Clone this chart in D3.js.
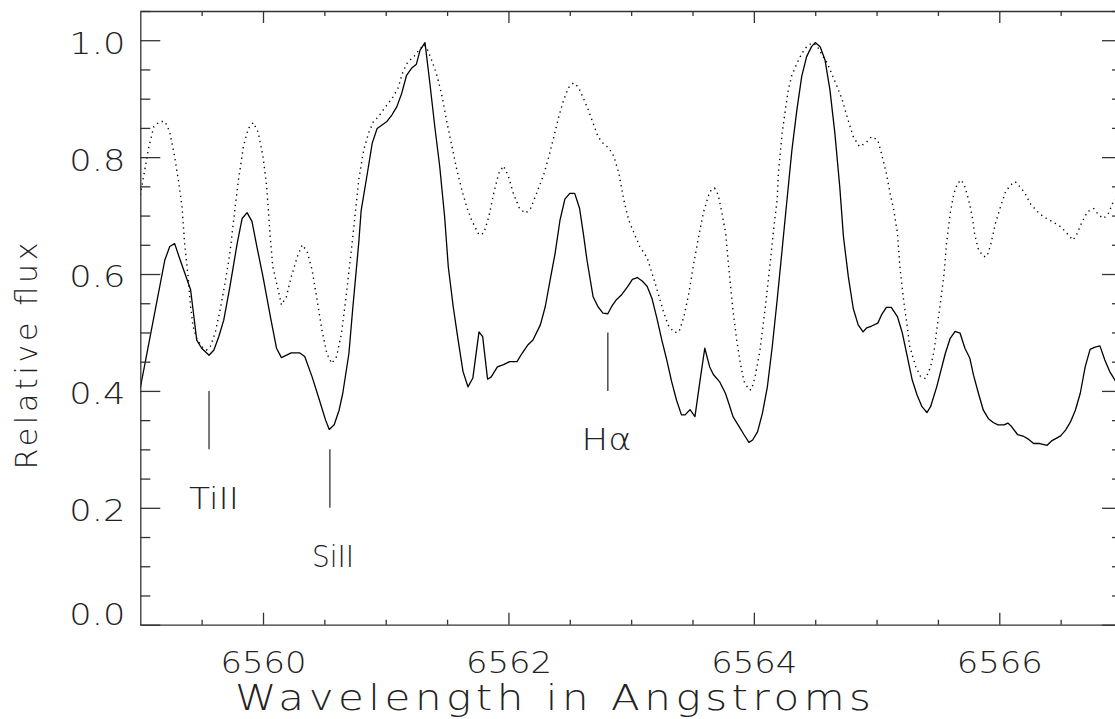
<!DOCTYPE html>
<html>
<head>
<meta charset="utf-8">
<script src="https://cdn.jsdelivr.net/npm/d3@7"></script>
<style>
  html, body { margin: 0; padding: 0; background: #fff; overflow: hidden; }
  svg { display: block; }
  .lbl { font-family: 'DejaVu Sans ExtraLight', 'DejaVu Sans', sans-serif; font-weight: 200; fill: #222; }
</style>
</head>
<body>
<svg id="chart" width="1115" height="719"></svg>
<script>
// ---------------- data ----------------
const xDomain = [6559, 6567];
const yDomain = [0, 1.05];
const xMajorTicks = [6560, 6562, 6564, 6566];
const xMinorTicks = [6559.5, 6560.5, 6561, 6561.5, 6562.5, 6563, 6563.5, 6564.5, 6565, 6565.5, 6566.5];
const yMajorTicks = [0, 0.2, 0.4, 0.6, 0.8, 1.0];
const yMinorTicks = [0.05, 0.1, 0.15, 0.25, 0.3, 0.35, 0.45, 0.5, 0.55, 0.65, 0.7, 0.75, 0.85, 0.9, 0.95, 1.05];
const xTitle = "Wavelength in Angstroms";
const yTitle = "Relative flux";

const solidWave = [6559.00,6559.20,6559.24,6559.28,6559.32,6559.41,6559.46,6559.50,6559.56,6559.60,6559.64,6559.68,6559.73,6559.79,6559.83,6559.87,6559.91,6559.95,6560.00,6560.06,6560.11,6560.15,6560.23,6560.30,6560.34,6560.40,6560.46,6560.51,6560.54,6560.58,6560.62,6560.65,6560.70,6560.73,6560.78,6560.80,6560.85,6560.89,6560.93,6560.97,6561.01,6561.05,6561.09,6561.13,6561.17,6561.21,6561.25,6561.28,6561.32,6561.36,6561.40,6561.44,6561.48,6561.51,6561.55,6561.59,6561.63,6561.67,6561.71,6561.76,6561.79,6561.83,6561.86,6561.91,6561.96,6562.01,6562.07,6562.11,6562.16,6562.20,6562.26,6562.30,6562.34,6562.38,6562.42,6562.46,6562.50,6562.54,6562.58,6562.61,6562.64,6562.69,6562.73,6562.77,6562.81,6562.84,6562.88,6562.92,6562.97,6563.01,6563.05,6563.09,6563.13,6563.17,6563.21,6563.25,6563.29,6563.33,6563.37,6563.41,6563.44,6563.48,6563.52,6563.56,6563.60,6563.64,6563.67,6563.72,6563.77,6563.80,6563.83,6563.88,6563.92,6563.96,6563.99,6564.03,6564.07,6564.11,6564.15,6564.19,6564.23,6564.27,6564.31,6564.35,6564.39,6564.43,6564.47,6564.50,6564.54,6564.58,6564.62,6564.66,6564.70,6564.73,6564.77,6564.81,6564.85,6564.89,6564.92,6564.96,6565.01,6565.04,6565.08,6565.12,6565.17,6565.21,6565.25,6565.29,6565.33,6565.37,6565.41,6565.44,6565.49,6565.56,6565.60,6565.64,6565.68,6565.72,6565.76,6565.79,6565.83,6565.87,6565.91,6565.95,6565.99,6566.04,6566.07,6566.10,6566.15,6566.20,6566.24,6566.28,6566.33,6566.39,6566.43,6566.50,6566.54,6566.58,6566.62,6566.66,6566.70,6566.74,6566.78,6566.82,6566.86,6566.90,6566.95,6567.00];
const solidFlux = [0.405,0.624,0.647,0.652,0.627,0.573,0.487,0.473,0.461,0.470,0.493,0.521,0.578,0.653,0.695,0.705,0.690,0.647,0.595,0.527,0.473,0.457,0.465,0.465,0.459,0.424,0.384,0.350,0.334,0.342,0.367,0.396,0.464,0.538,0.653,0.709,0.772,0.824,0.849,0.855,0.861,0.872,0.886,0.909,0.940,0.952,0.959,0.983,0.996,0.926,0.852,0.784,0.698,0.612,0.544,0.487,0.433,0.407,0.422,0.501,0.493,0.420,0.424,0.441,0.445,0.450,0.450,0.464,0.479,0.487,0.513,0.544,0.590,0.635,0.692,0.728,0.738,0.738,0.712,0.670,0.624,0.561,0.544,0.533,0.532,0.544,0.556,0.564,0.578,0.591,0.594,0.588,0.579,0.558,0.524,0.487,0.453,0.416,0.384,0.359,0.359,0.368,0.356,0.416,0.473,0.441,0.428,0.416,0.395,0.376,0.356,0.339,0.325,0.312,0.316,0.330,0.362,0.407,0.476,0.556,0.641,0.727,0.812,0.880,0.938,0.972,0.989,0.996,0.989,0.966,0.915,0.841,0.749,0.664,0.595,0.541,0.513,0.501,0.508,0.511,0.516,0.530,0.543,0.543,0.527,0.499,0.459,0.419,0.393,0.373,0.363,0.373,0.407,0.464,0.490,0.502,0.499,0.473,0.456,0.427,0.396,0.367,0.353,0.346,0.342,0.342,0.345,0.339,0.325,0.322,0.317,0.310,0.310,0.307,0.315,0.323,0.333,0.347,0.367,0.396,0.441,0.471,0.475,0.477,0.453,0.433,0.416,0.400];

const dottedWave = [6559.00,6559.07,6559.11,6559.16,6559.20,6559.24,6559.28,6559.31,6559.34,6559.36,6559.39,6559.41,6559.43,6559.46,6559.50,6559.54,6559.57,6559.61,6559.65,6559.69,6559.73,6559.77,6559.80,6559.84,6559.88,6559.92,6559.96,6560.00,6560.03,6560.06,6560.08,6560.13,6560.15,6560.19,6560.23,6560.28,6560.32,6560.36,6560.40,6560.44,6560.48,6560.52,6560.56,6560.60,6560.64,6560.68,6560.72,6560.75,6560.78,6560.82,6560.86,6560.90,6560.94,6560.98,6561.02,6561.06,6561.10,6561.14,6561.18,6561.23,6561.27,6561.31,6561.33,6561.38,6561.42,6561.46,6561.50,6561.54,6561.58,6561.62,6561.66,6561.70,6561.76,6561.80,6561.84,6561.88,6561.92,6561.96,6562.00,6562.04,6562.09,6562.14,6562.18,6562.23,6562.29,6562.33,6562.37,6562.41,6562.45,6562.49,6562.53,6562.57,6562.61,6562.65,6562.69,6562.73,6562.77,6562.82,6562.86,6562.90,6562.94,6562.98,6563.02,6563.07,6563.13,6563.18,6563.22,6563.26,6563.30,6563.35,6563.39,6563.43,6563.47,6563.51,6563.55,6563.59,6563.62,6563.64,6563.68,6563.71,6563.74,6563.77,6563.80,6563.83,6563.86,6563.89,6563.92,6563.96,6563.98,6564.01,6564.05,6564.09,6564.13,6564.16,6564.19,6564.20,6564.23,6564.26,6564.28,6564.31,6564.35,6564.39,6564.43,6564.47,6564.51,6564.55,6564.60,6564.64,6564.68,6564.72,6564.76,6564.81,6564.86,6564.91,6564.96,6565.01,6565.04,6565.08,6565.11,6565.14,6565.17,6565.19,6565.22,6565.25,6565.27,6565.32,6565.36,6565.40,6565.44,6565.47,6565.49,6565.52,6565.55,6565.57,6565.60,6565.63,6565.66,6565.69,6565.72,6565.75,6565.78,6565.80,6565.83,6565.87,6565.90,6565.93,6565.97,6566.01,6566.05,6566.09,6566.13,6566.17,6566.21,6566.25,6566.31,6566.36,6566.43,6566.50,6566.55,6566.60,6566.63,6566.67,6566.72,6566.77,6566.81,6566.85,6566.89,6566.93,6567.00];
const dottedFlux = [0.735,0.818,0.852,0.861,0.861,0.843,0.801,0.761,0.715,0.655,0.595,0.544,0.510,0.490,0.476,0.470,0.476,0.499,0.538,0.584,0.635,0.710,0.761,0.818,0.849,0.859,0.843,0.801,0.749,0.660,0.612,0.567,0.547,0.561,0.595,0.630,0.650,0.638,0.607,0.556,0.504,0.464,0.447,0.459,0.499,0.567,0.641,0.700,0.761,0.812,0.841,0.861,0.869,0.881,0.892,0.903,0.918,0.946,0.963,0.972,0.983,0.992,0.989,0.963,0.938,0.903,0.858,0.818,0.778,0.744,0.715,0.692,0.667,0.670,0.698,0.738,0.772,0.785,0.767,0.738,0.712,0.704,0.712,0.738,0.772,0.801,0.835,0.869,0.898,0.919,0.927,0.920,0.901,0.881,0.858,0.835,0.824,0.815,0.801,0.772,0.727,0.692,0.672,0.647,0.628,0.595,0.567,0.538,0.513,0.500,0.501,0.527,0.567,0.618,0.664,0.706,0.727,0.741,0.747,0.735,0.704,0.670,0.600,0.538,0.487,0.447,0.416,0.402,0.402,0.424,0.470,0.538,0.612,0.675,0.727,0.772,0.841,0.886,0.915,0.940,0.960,0.977,0.989,0.995,0.992,0.977,0.960,0.940,0.920,0.898,0.869,0.835,0.818,0.824,0.835,0.829,0.806,0.772,0.738,0.710,0.670,0.612,0.556,0.510,0.476,0.441,0.424,0.421,0.441,0.470,0.504,0.550,0.601,0.652,0.704,0.738,0.755,0.761,0.749,0.727,0.698,0.667,0.642,0.630,0.630,0.650,0.688,0.715,0.740,0.752,0.758,0.749,0.738,0.721,0.707,0.698,0.690,0.681,0.670,0.658,0.667,0.687,0.707,0.712,0.701,0.695,0.704,0.724,0.740];

// spectral line markers: wavelength, marker flux range, label, label position
const markerNames = ["TiII", "SiII", "H\u03b1"];
const markerWave = [6559.56, 6560.545, 6562.81];
const markerLow = [0.30, 0.20, 0.40];
const markerHigh = [0.40, 0.30, 0.50];
const markerLabelWave = [6559.60, 6560.57, 6562.80];
const markerLabelFlux = [0.198, 0.099, 0.299];

// ---------------- drawing ----------------
const svg = d3.select("#chart");
const x = d3.scaleLinear().domain(xDomain).range([140.3, 1122]);
const y = d3.scaleLinear().domain(yDomain).range([624.7, 11]);
const axisColor = "#333";

svg.append("defs").append("clipPath").attr("id", "plotclip")
  .append("rect")
  .attr("x", x(xDomain[0])).attr("y", y(yDomain[1]))
  .attr("width", x(xDomain[1]) - x(xDomain[0]))
  .attr("height", y(yDomain[0]) - y(yDomain[1]));

const line = d3.line().x(d => x(d[0])).y(d => y(d[1]));

const solidData = solidWave.map((w, i) => [w, solidFlux[i]]);
const dottedData = dottedWave.map((w, i) => [w, dottedFlux[i]]);

const plot = svg.append("g").attr("clip-path", "url(#plotclip)");
plot.append("path").datum(dottedData)
  .attr("d", line).attr("fill", "none")
  .attr("stroke", "#000").attr("stroke-width", 1.4)
  .attr("stroke-dasharray", "1.3 4");
plot.append("path").datum(solidData)
  .attr("d", line).attr("fill", "none")
  .attr("stroke", "#000").attr("stroke-width", 1.3)
  .attr("stroke-linejoin", "round");

// axes
function styleAxis(g) {
  g.selectAll("path.domain").attr("stroke", axisColor).attr("stroke-width", 1.3);
  g.selectAll(".tick line").attr("stroke", axisColor).attr("stroke-width", 1.3);
  g.attr("font-size", null).attr("font-family", null);
}

// bottom
const gB = svg.append("g").attr("transform", `translate(0,${y(0)})`)
  .call(d3.axisBottom(x).tickValues(xMajorTicks).tickSizeInner(-12).tickSizeOuter(0).tickFormat(d3.format("d")));
styleAxis(gB);
gB.selectAll(".tick text").attr("class", "lbl").attr("y", 48).attr("dy", 0)
  .attr("font-size", 30).attr("textLength", 86).attr("lengthAdjust", "spacingAndGlyphs").attr("fill", "#222");
const gBm = svg.append("g").attr("transform", `translate(0,${y(0)})`)
  .call(d3.axisBottom(x).tickValues(xMinorTicks).tickSizeInner(-5).tickSizeOuter(0).tickFormat(""));
styleAxis(gBm); gBm.select("path.domain").remove();

// top
const gT = svg.append("g").attr("transform", `translate(0,${y(yDomain[1])})`)
  .call(d3.axisTop(x).tickValues(xMajorTicks).tickSizeInner(-12).tickSizeOuter(0).tickFormat(""));
styleAxis(gT);
const gTm = svg.append("g").attr("transform", `translate(0,${y(yDomain[1])})`)
  .call(d3.axisTop(x).tickValues(xMinorTicks).tickSizeInner(-5).tickSizeOuter(0).tickFormat(""));
styleAxis(gTm); gTm.select("path.domain").remove();

// left
const gL = svg.append("g").attr("transform", `translate(${x(xDomain[0])},0)`)
  .call(d3.axisLeft(y).tickValues(yMajorTicks).tickSizeInner(-20).tickSizeOuter(0).tickFormat(d3.format(".1f")));
styleAxis(gL);
gL.selectAll(".tick text").attr("class", "lbl").attr("x", -15).attr("font-size", 30)
  .attr("textLength", 56).attr("lengthAdjust", "spacingAndGlyphs").attr("fill", "#222")
  .attr("dy", d => d === 0 ? "0" : "0.43em");
const gLm = svg.append("g").attr("transform", `translate(${x(xDomain[0])},0)`)
  .call(d3.axisLeft(y).tickValues(yMinorTicks).tickSizeInner(-10).tickSizeOuter(0).tickFormat(""));
styleAxis(gLm); gLm.select("path.domain").remove();

// right
const gR = svg.append("g").attr("transform", `translate(${x(xDomain[1])},0)`)
  .call(d3.axisRight(y).tickValues(yMajorTicks).tickSizeInner(-20).tickSizeOuter(0).tickFormat(""));
styleAxis(gR);
const gRm = svg.append("g").attr("transform", `translate(${x(xDomain[1])},0)`)
  .call(d3.axisRight(y).tickValues(yMinorTicks).tickSizeInner(-10).tickSizeOuter(0).tickFormat(""));
styleAxis(gRm); gRm.select("path.domain").remove();

// markers
markerNames.forEach((name, i) => {
  svg.append("line")
    .attr("x1", x(markerWave[i])).attr("x2", x(markerWave[i]))
    .attr("y1", y(markerLow[i])).attr("y2", y(markerHigh[i]))
    .attr("stroke", axisColor).attr("stroke-width", 1.3);
  svg.append("text").attr("class", "lbl")
    .attr("x", x(markerLabelWave[i])).attr("y", y(markerLabelFlux[i]))
    .attr("text-anchor", "middle").attr("font-size", 31)
    .attr("textLength", name === "SiII" ? 42 : 50).attr("lengthAdjust", "spacingAndGlyphs")
    .text(name);
});

// titles
const xScaleW = 1.2;
svg.append("text").attr("class", "lbl")
  .attr("transform", `translate(553,710) scale(${xScaleW},1)`)
  .attr("text-anchor", "middle")
  .attr("font-size", 35).attr("textLength", 636 / xScaleW).attr("lengthAdjust", "spacing")
  .text(xTitle);
svg.append("text").attr("class", "lbl")
  .attr("transform", "translate(37,356) rotate(-90)")
  .attr("text-anchor", "middle").attr("font-size", 30)
  .attr("textLength", 227).attr("lengthAdjust", "spacing")
  .text(yTitle);
</script>
</body>
</html>
